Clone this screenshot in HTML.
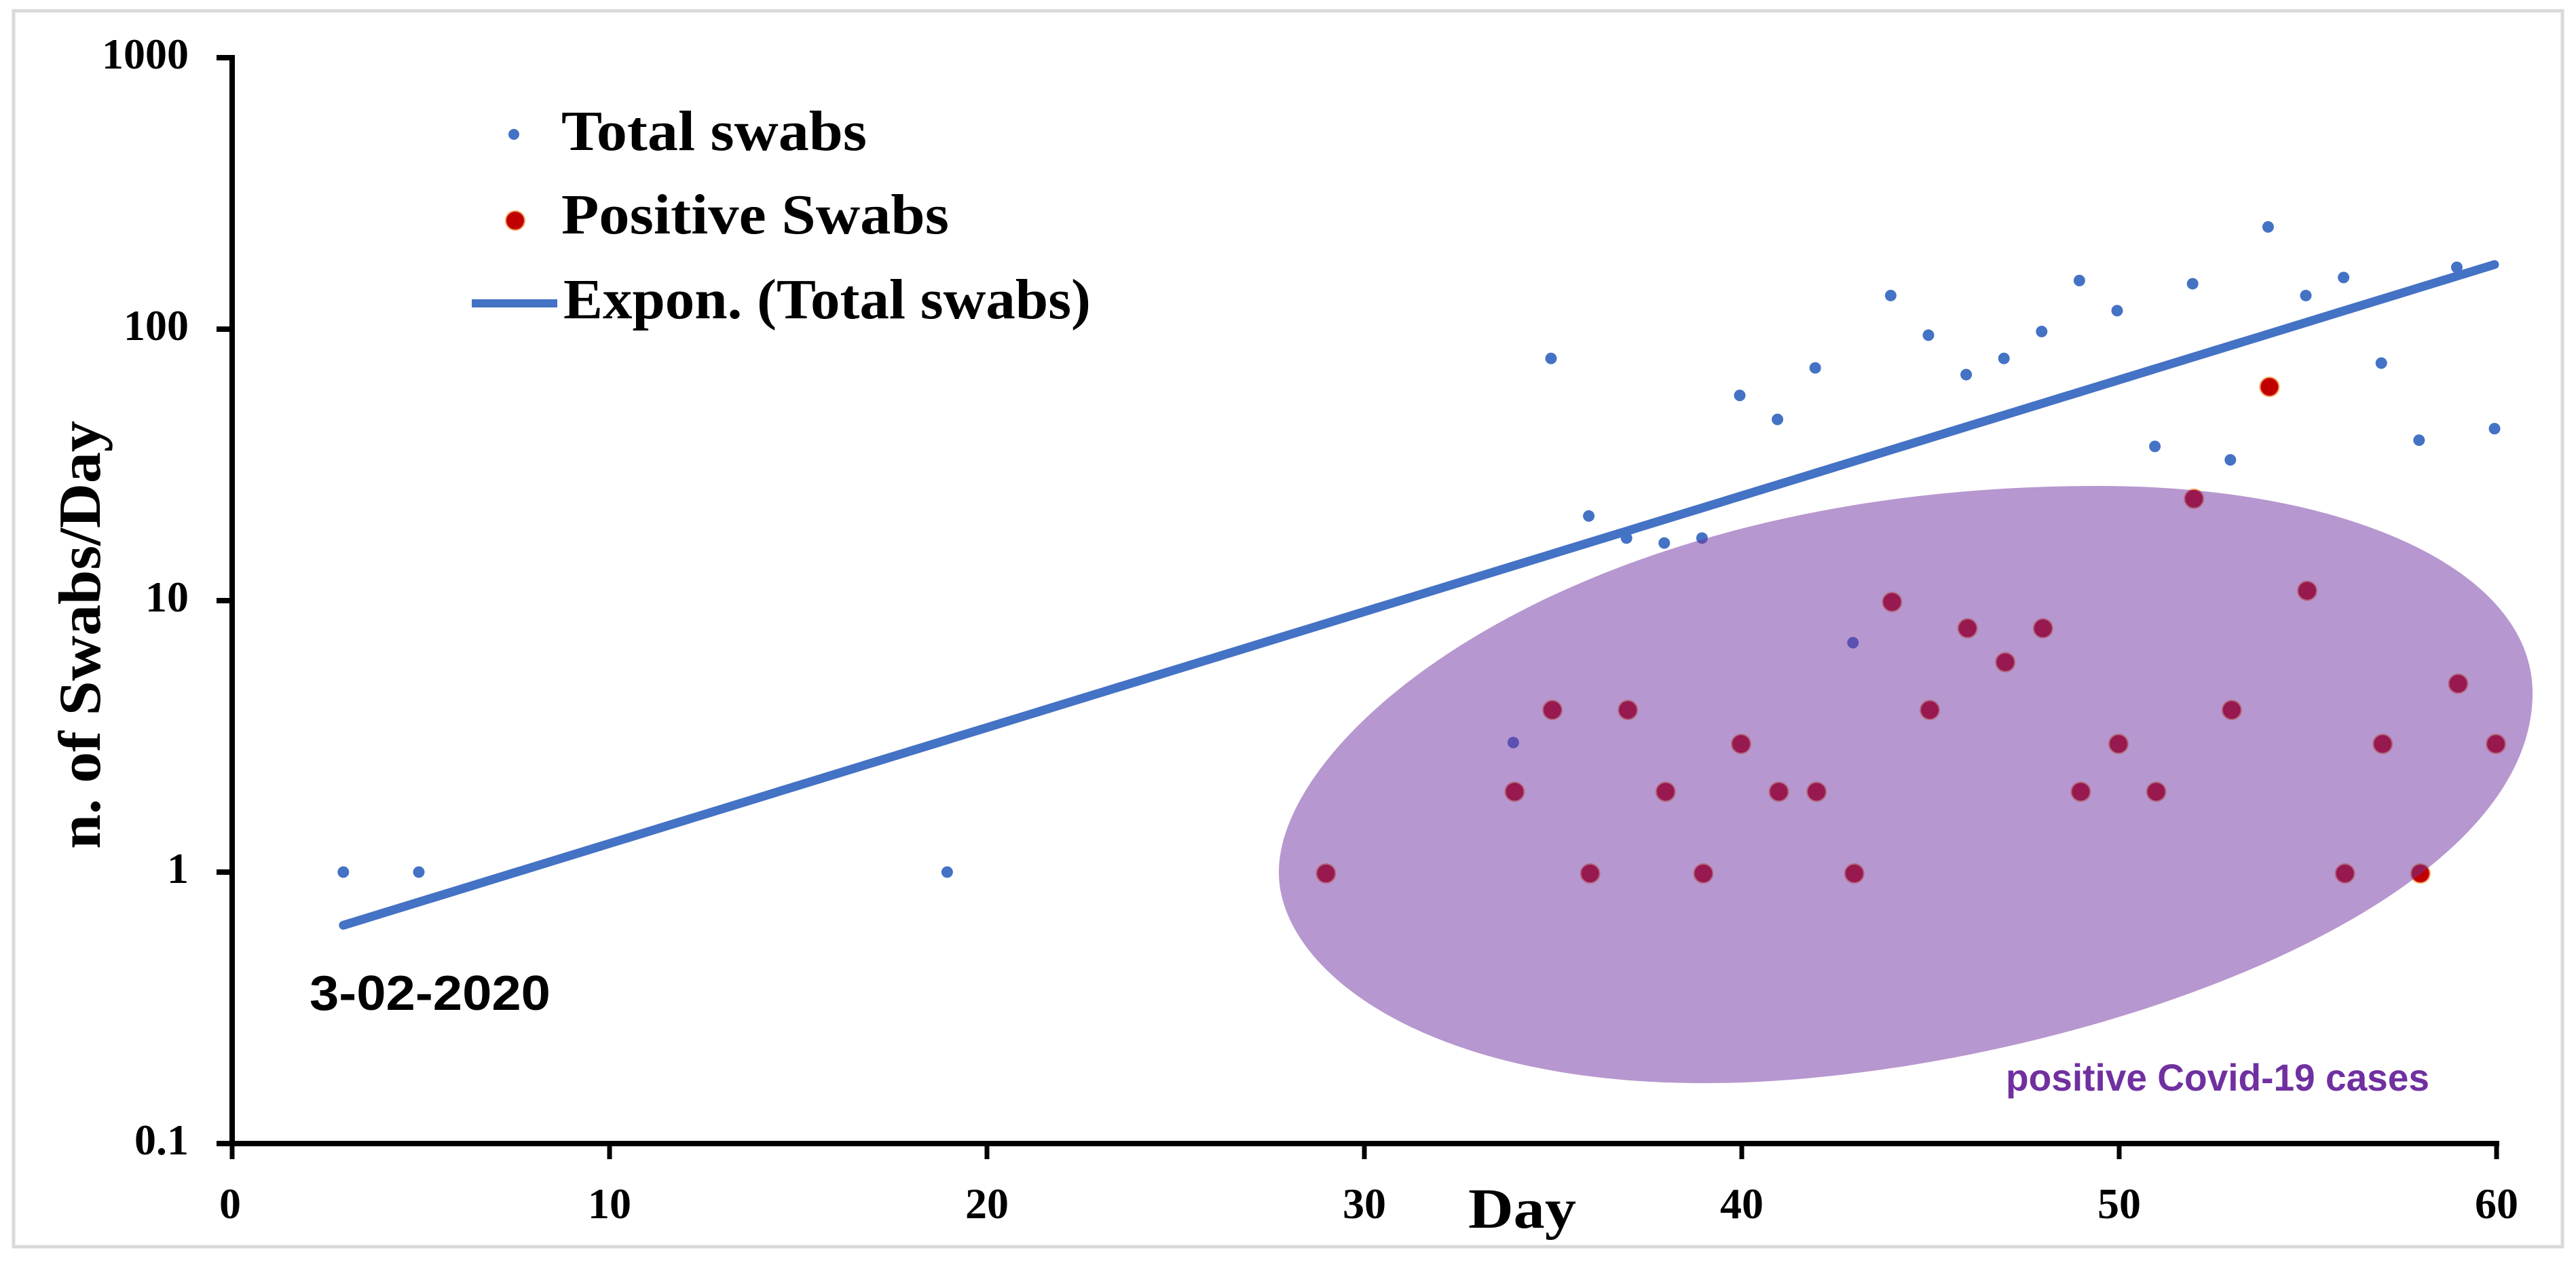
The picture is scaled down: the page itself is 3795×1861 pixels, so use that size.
<!DOCTYPE html>
<html lang="en">
<head>
<meta charset="utf-8">
<title>Swabs per day</title>
<style>
html,body{margin:0;padding:0;background:#fff;}
svg{display:block;}
text{font-family:"Liberation Serif",serif;fill:#000;}
.tick{font-size:64px;font-weight:bold;}
.legend{font-size:84px;font-weight:bold;}
</style>
</head>
<body>
<svg id="chart" xmlns="http://www.w3.org/2000/svg" width="3795" height="1861" viewBox="0 0 3795 1861">
  <rect x="0" y="0" width="3795" height="1861" fill="#ffffff"/>
  <rect x="20" y="16" width="3755" height="1821" fill="none" stroke="#d9d9d9" stroke-width="5"/>
  <g id="axes"></g>
  <g id="total-series"></g>
  <g id="positive-series"></g>
  <g id="trend-series"></g>
  <path d="M3091 716 C3461 716 3731 841 3731 1021 C3731 1358 2989 1596 2510 1596 C2100 1596 1884 1430 1884 1285 C1884 1076 2325 716 3091 716 Z" fill="#7030a0" fill-opacity="0.5"/>

  <text transform="translate(147 1251) rotate(-90)" font-size="88" font-weight="bold" textLength="631" lengthAdjust="spacingAndGlyphs">n. of Swabs/Day</text>
  <text x="2163" y="1809" font-size="84" font-weight="bold" textLength="159" lengthAdjust="spacingAndGlyphs">Day</text>

  <circle cx="757" cy="198" r="8" fill="#4472c4"/>
  <text class="legend" x="827" y="221" textLength="450" lengthAdjust="spacingAndGlyphs">Total swabs</text>
  <circle cx="759" cy="325" r="14" fill="#c00000" stroke="#f4a460" stroke-width="2"/>
  <text class="legend" x="827" y="344" textLength="571" lengthAdjust="spacingAndGlyphs">Positive Swabs</text>
  <line x1="695" y1="447" x2="821" y2="447" stroke="#4472c4" stroke-width="12"/>
  <text class="legend" x="830" y="469" textLength="777" lengthAdjust="spacingAndGlyphs">Expon. (Total swabs)</text>

  <text x="456" y="1488" font-size="72" font-weight="bold" textLength="355" lengthAdjust="spacingAndGlyphs" style="font-family:'Liberation Sans',sans-serif">3-02-2020</text>
  <text x="2955" y="1607" font-size="56" font-weight="bold" textLength="624" lengthAdjust="spacingAndGlyphs" style="font-family:'Liberation Sans',sans-serif;fill:#7030a0">positive Covid-19 cases</text>
</svg>
<script>
const xTickValues = [0, 10, 20, 30, 40, 50, 60];
const xTickLabels = ['0', '10', '20', '30', '40', '50', '60'];
const yTickValues = [0.1, 1, 10, 100, 1000];
const yTickLabels = ['0.1', '1', '10', '100', '1000'];

const totalDays = [3, 5, 19, 34, 35, 36, 37, 38, 39, 40, 41, 42, 43, 44, 45, 46, 47, 48, 49, 50, 51, 52, 53, 54, 55, 56, 57, 58, 59, 60];
const totalValues = [1, 1, 1, 3, 78, 20.5, 17, 16.3, 17, 57, 46.5, 72, 7, 133, 95, 68, 78, 98, 151, 117, 37, 147, 33, 238, 133, 155, 75, 39, 169, 43];

const positiveDays = [29, 34, 35, 36, 37, 38, 39, 40, 41, 42, 43, 44, 45, 46, 47, 48, 49, 50, 51, 52, 53, 54, 55, 56, 57, 58, 59, 60];
const positiveValues = [1, 2, 4, 1, 4, 2, 1, 3, 2, 2, 1, 10, 4, 8, 6, 8, 2, 3, 2, 24, 4, 62, 11, 1, 3, 1, 5, 3];

const trendDays = [3, 60];
const trendValues = [0.637, 173];

const NS = 'http://www.w3.org/2000/svg';
const plotLeft = 342, plotRight = 3678, plotTop = 85, plotBottom = 1685;
const xMin = 0, xMax = 60, logMin = -1, logMax = 3;
const totalShiftX = -3;
const positiveShiftX = -1;

function xScale(v) {
  return plotLeft + (v - xMin) / (xMax - xMin) * (plotRight - plotLeft);
}
function yScale(v) {
  return plotBottom - (Math.log10(v) - logMin) / (logMax - logMin) * (plotBottom - plotTop);
}
function make(tag, parent, props, text) {
  const el = document.createElementNS(NS, tag);
  Object.keys(props).forEach(function (k) { el.setAttribute(k, props[k]); });
  if (text !== undefined) el.textContent = text;
  parent.appendChild(el);
  return el;
}

const axes = document.getElementById('axes');
const yAxis = make('line', axes, {x1: plotLeft, y1: plotTop - 4, x2: plotLeft, y2: plotBottom + 4, stroke: '#000', 'stroke-width': 8});


const xAxis = make('line', axes, {x1: plotLeft, y1: plotBottom, x2: plotRight + 4, y2: plotBottom, stroke: '#000', 'stroke-width': 8});



yTickValues.forEach(function (v, i) {
  const y = yScale(v);
  const t = make('line', axes, {x1: 319, y1: y, x2: plotLeft, y2: y, stroke: '#000', 'stroke-width': 8});
  
  
  const l = make('text', axes, {class: 'tick', x: 278, y: y + 16, 'text-anchor': 'end'}, yTickLabels[i]);
  
  
});

xTickValues.forEach(function (v, i) {
  const x = xScale(v);
  const t = make('line', axes, {x1: x, y1: plotBottom, x2: x, y2: 1708, stroke: '#000', 'stroke-width': 7});
  
  
  const l = make('text', axes, {class: 'tick', x: i === 0 ? x - 3 : x, y: 1795, 'text-anchor': 'middle'}, xTickLabels[i]);
  
  
});

const totalGroup = document.getElementById('total-series');
totalDays.forEach(function (d, i) {
  const c = make('circle', totalGroup, {cx: xScale(d) + totalShiftX, cy: yScale(totalValues[i]), r: 8.5, fill: '#4472c4'});
  
  
});

const positiveGroup = document.getElementById('positive-series');
positiveDays.forEach(function (d, i) {
  const c = make('circle', positiveGroup, {cx: xScale(d) + positiveShiftX, cy: yScale(positiveValues[i]) + 2, r: 14, fill: '#c00000', stroke: '#f4a460', 'stroke-width': 2});
  
  
});

const trendGroup = document.getElementById('trend-series');
const trendLine = make('line', trendGroup, {
  x1: xScale(trendDays[0]) + totalShiftX, y1: yScale(trendValues[0]),
  x2: xScale(trendDays[1]) + totalShiftX, y2: yScale(trendValues[1]),
  stroke: '#4472c4', 'stroke-width': 13, 'stroke-linecap': 'round'
});


</script>
</body>
</html>
